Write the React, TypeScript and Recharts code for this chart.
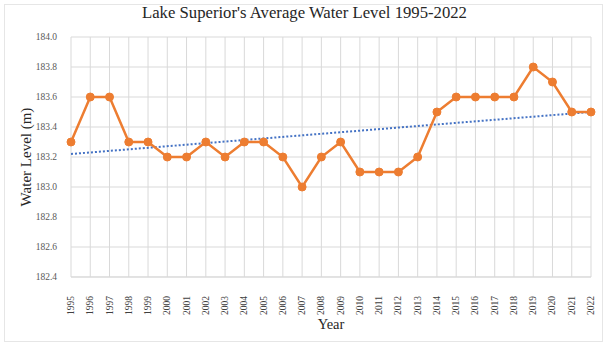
import { LineChart, Line, XAxis, YAxis, CartesianGrid } from 'recharts';

const years = [
  '1995', '1996', '1997', '1998', '1999', '2000', '2001', '2002', '2003', '2004',
  '2005', '2006', '2007', '2008', '2009', '2010', '2011', '2012', '2013', '2014',
  '2015', '2016', '2017', '2018', '2019', '2020', '2021', '2022',
];
const levels = [
  183.3, 183.6, 183.6, 183.3, 183.3, 183.2, 183.2, 183.3, 183.2, 183.3,
  183.3, 183.2, 183.0, 183.2, 183.3, 183.1, 183.1, 183.1, 183.2, 183.5,
  183.6, 183.6, 183.6, 183.6, 183.8, 183.7, 183.5, 183.5,
];
// linear trendline endpoints
const trendStart = 183.22;
const trendEnd = 183.5;
const yTicks = [182.4, 182.6, 182.8, 183.0, 183.2, 183.4, 183.6, 183.8, 184.0];

const data = years.map((y, i) => ({
  year: y,
  level: levels[i],
  trend: i === 0 ? trendStart : i === years.length - 1 ? trendEnd : null,
}));

const FONT = '"Liberation Serif", "Times New Roman", serif';

function YearTick({ x, y, payload }: any) {
  return (
    <text
      x={x}
      y={y}
      transform={`rotate(-90, ${x}, ${y})`}
      textAnchor="end"
      dominantBaseline="central"
      fontSize={9.5}
      fontFamily={FONT}
      fill="#404040"
    >
      {payload.value}
    </text>
  );
}

export default function App() {
  return (
    <div style={{ position: 'absolute', left: 0, top: 0, width: 609, height: 346, background: '#fff' }}>
      <div
        style={{
          position: 'absolute',
          left: 4,
          top: 4,
          width: 599,
          height: 338,
          border: '1px solid #e6e6e6',
          boxSizing: 'border-box',
        }}
      />
      <div
        style={{
          position: 'absolute',
          top: 3,
          left: 0,
          width: 609,
          textAlign: 'center',
          fontFamily: FONT,
          fontSize: 16.7,
          color: '#262626',
        }}
      >
        Lake Superior's Average Water Level 1995-2022
      </div>
      <LineChart
        width={609}
        height={346}
        data={data}
        margin={{ top: 37, right: 18, bottom: 0, left: 0 }}
        style={{ position: 'absolute', left: 0, top: 0 }}
      >
        <CartesianGrid stroke="#d9d9d9" strokeWidth={1} />
        <XAxis
          dataKey="year"
          tick={<YearTick />}
          tickLine={false}
          axisLine={{ stroke: '#d9d9d9' }}
          interval={0}
          tickMargin={13}
          height={69}
          label={{ value: 'Year', position: 'insideBottom', offset: 17, fontSize: 14.5, fontFamily: FONT, fill: '#262626' }}
        />
        <YAxis
          domain={[182.4, 184.0]}
          ticks={yTicks}
          tickFormatter={(v: number) => v.toFixed(1)}
          tick={{ fontSize: 9.5, fontFamily: FONT, fill: '#595959' }}
          tickLine={false}
          axisLine={false}
          tickMargin={8}
          width={71}
          label={{ value: 'Water Level (m)', angle: -90, position: 'insideLeft', offset: 26, style: { textAnchor: 'middle' }, fontSize: 15, fontFamily: FONT, fill: '#262626' }}
        />
        <Line
          dataKey="trend"
          stroke="#4472c4"
          strokeWidth={2}
          strokeDasharray="2 2"
          dot={false}
          connectNulls
          isAnimationActive={false}
        />
        <Line
          dataKey="level"
          stroke="#ed7d31"
          strokeWidth={2.5}
          dot={{ r: 4, fill: '#ed7d31', stroke: '#ed7d31', strokeWidth: 1 }}
          isAnimationActive={false}
        />
      </LineChart>
    </div>
  );
}
